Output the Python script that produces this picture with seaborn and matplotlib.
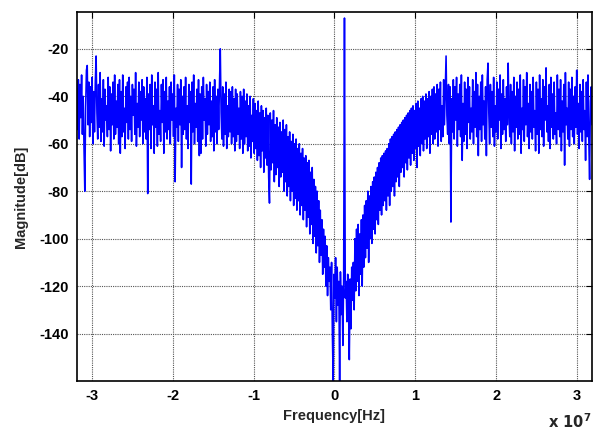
import numpy as np
import pandas as pd
import matplotlib
matplotlib.use("Agg")
import matplotlib.pyplot as plt
import seaborn as sns
from matplotlib.ticker import FuncFormatter

# spectrum magnitude in dB, one value per FFT bin
mag_db = [
    -37, -54, -33, -58, -35, -49, -31, -56, -40, -62, -80, -45, -29, -27, -52, -34,
    -57, -36, -51, -32, -60, -38, -55, -34, -23, -47, -58, -35, -53, -30, -59, -41,
    -55, -33, -61, -37, -50, -44, -57, -32, -54, -36, -63, -39, -52, -34, -58, -31,
    -56, -42, -53, -35, -60, -33, -64, -38, -57, -31, -55, -45, -62, -36, -51, -34,
    -58, -32, -54, -40, -59, -35, -48, -37, -56, -30, -61, -43, -53, -34, -57, -38,
    -50, -33, -60, -36, -55, -41, -58, -32, -81, -39, -54, -35, -62, -31, -52, -44,
    -64, -34, -53, -37, -61, -30, -56, -46, -59, -35, -51, -33, -64, -38, -55, -32,
    -58, -42, -54, -36, -60, -34, -50, -39, -57, -31, -76, -45, -53, -35, -59, -37,
    -52, -33, -70, -40, -56, -36, -54, -32, -58, -44, -62, -35, -51, -38, -77, -34,
    -55, -31, -60, -43, -53, -37, -59, -33, -65, -39, -64, -36, -58, -32, -50, -41,
    -61, -35, -56, -38, -52, -34, -59, -42, -57, -36, -63, -33, -55, -40, -60, -37,
    -54, -35, -20, -47, -58, -36, -61, -39, -56, -34, -62, -44, -57, -37, -55, -38,
    -60, -36, -57, -41, -63, -37, -59, -39, -56, -45, -62, -38, -58, -40, -64, -37,
    -60, -42, -57, -39, -63, -44, -61, -40, -66, -48, -59, -41, -64, -43, -62, -46,
    -67, -42, -65, -47, -70, -44, -63, -46, -72, -49, -66, -45, -69, -48, -74, -85,
    -47, -71, -50, -68, -46, -76, -52, -73, -49, -70, -53, -78, -51, -74, -55, -72,
    -50, -80, -54, -76, -52, -82, -57, -78, -55, -84, -59, -80, -56, -86, -60, -83,
    -58, -88, -62, -84, -60, -90, -64, -86, -62, -92, -66, -88, -65, -95, -68, -91,
    -67, -98, -72, -94, -70, -102, -75, -99, -78, -106, -80, -103, -84, -110, -88, -107,
    -92, -115, -96, -112, -99, -120, -103, -124, -108, -118, -112, -130, -110, -140, -160, -115,
    -125, -108, -135, -112, -128, -118, -160, -114, -132, -120, -145, -116, -7, -125, -118, -135,
    -115, -128, -151, -117, -138, -112, -126, -110, -130, -100, -122, -96, -118, -94, -124, -98,
    -115, -92, -120, -90, -112, -86, -108, -84, -104, -80, -110, -82, -100, -78, -102, -76,
    -96, -74, -98, -72, -92, -70, -94, -68, -88, -66, -90, -65, -86, -64, -84, -63,
    -88, -62, -82, -60, -86, -58, -80, -57, -78, -56, -82, -55, -76, -54, -74, -53,
    -78, -52, -72, -51, -70, -50, -74, -49, -68, -48, -71, -47, -66, -46, -69, -45,
    -64, -44, -67, -46, -62, -43, -70, -42, -61, -45, -65, -41, -60, -40, -63, -42,
    -58, -39, -62, -41, -57, -38, -64, -40, -56, -37, -60, -36, -58, -39, -55, -35,
    -61, -37, -54, -34, -59, -44, -57, -33, -52, -38, -23, -48, -56, -35, -60, -36,
    -93, -41, -55, -33, -58, -36, -50, -32, -61, -39, -54, -35, -57, -31, -67, -43,
    -59, -34, -56, -37, -62, -32, -51, -36, -58, -45, -55, -33, -60, -38, -53, -30,
    -57, -35, -65, -40, -54, -34, -59, -31, -52, -42, -58, -36, -65, -33, -26, -47,
    -60, -35, -53, -38, -57, -32, -61, -44, -55, -34, -58, -37, -50, -31, -62, -39,
    -56, -33, -54, -41, -59, -36, -52, -26, -48, -57, -35, -60, -38, -55, -32, -63,
    -40, -53, -34, -58, -37, -56, -31, -64, -45, -54, -33, -59, -36, -52, -30, -57,
    -43, -62, -35, -55, -38, -58, -32, -53, -46, -63, -34, -56, -37, -64, -31, -54,
    -41, -57, -33, -61, -36, -50, -28, -55, -44, -59, -35, -62, -32, -53, -39, -58,
    -34, -56, -47, -60, -31, -54, -37, -57, -33, -63, -42, -55, -35, -69, -30, -52,
    -45, -58, -34, -61, -37, -54, -32, -57, -40, -60, -36, -53, -29, -56, -43, -62,
    -35, -55, -38, -59, -33, -54, -46, -67, -34, -57, -31, -58, -75, -42, -36, -52,
]

f_min_hz = -31.86e6
f_max_hz = 31.86e6
x_ticks = [-3, -2, -1, 0, 1, 2, 3]          # in units of 1e7 Hz
y_ticks = [-140, -120, -100, -80, -60, -40, -20]
y_lim = (-160, -4.5)

# FFT bin frequencies
freq_hz = np.linspace(f_min_hz, f_max_hz, len(mag_db))
df = pd.DataFrame({"freq": freq_hz, "mag": mag_db})

sns.set_style("white")
plt.rcParams["font.family"] = ["Liberation Sans", "DejaVu Sans"]
plt.rcParams["font.weight"] = "bold"
plt.rcParams["axes.unicode_minus"] = False

fig = plt.figure(figsize=(5.95, 4.32), dpi=100)
ax = fig.add_axes([0.129, 0.118, 0.866, 0.854])

sns.lineplot(data=df, x="freq", y="mag", ax=ax, color="#0000ff",
             linewidth=1.15, estimator=None, sort=False)

ax.set_xlim(f_min_hz, f_max_hz)
ax.set_ylim(*y_lim)
ax.set_xticks([t * 1e7 for t in x_ticks])
ax.xaxis.set_major_formatter(FuncFormatter(lambda v, p: f"{v / 1e7:g}"))
ax.set_yticks(y_ticks)

ax.grid(True, color="#555555", linestyle=(0, (1, 1)), linewidth=0.8)
ax.set_axisbelow(True)
for s in ax.spines.values():
    s.set_color("black")
    s.set_linewidth(1.2)
ax.tick_params(direction="in", length=4, width=0.8, top=True, right=True,
               labelsize=10.5, colors="black", pad=6)
for lab in ax.get_xticklabels() + ax.get_yticklabels():
    lab.set_fontweight("bold")

ax.set_xlabel("Frequency[Hz]", fontsize=10.5, fontweight="bold", labelpad=4)
ax.set_ylabel("Magnitude[dB]", fontsize=10.5, fontweight="bold", labelpad=8)
ax.text(0.998, -0.085, r"$\mathbf{x\ 10^{7}}$", transform=ax.transAxes,
        ha="right", va="top", fontsize=10.5)

fig.savefig("out.png", dpi=100)
